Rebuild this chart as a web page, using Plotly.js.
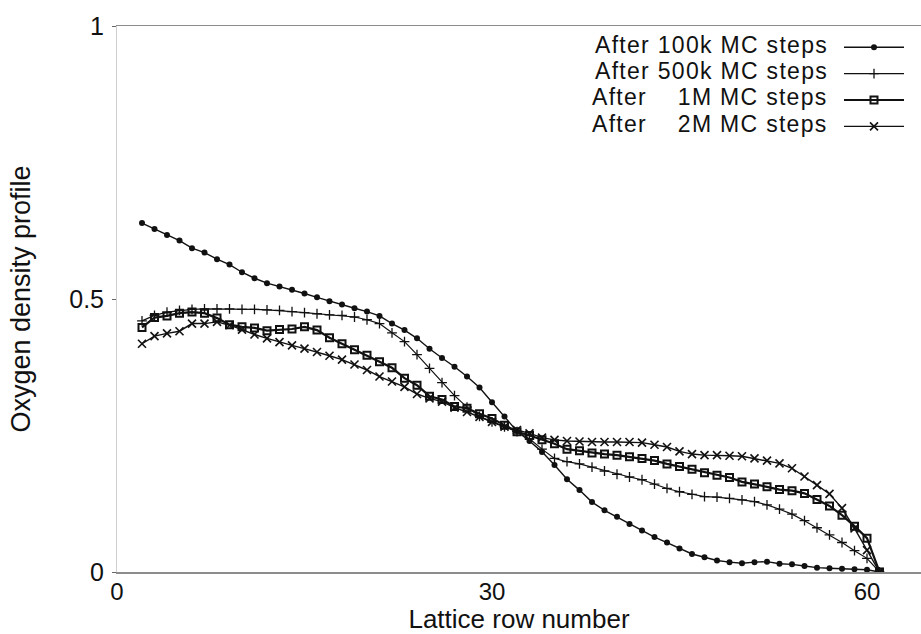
<!DOCTYPE html>
<html>
<head>
<meta charset="utf-8">
<script src="https://cdn.plot.ly/plotly-3.0.1.min.js"></script>
<style>
html,body{margin:0;padding:0;background:#fff;}
.annotation-text{letter-spacing:1.3px;}
</style>
</head>
<body>
<div id="chart" style="width:921px;height:634px;"></div>
<script>
// Lattice row numbers
const rows = [2,3,4,5,6,7,8,9,10,11,12,13,14,15,16,17,18,19,20,21,22,23,24,25,26,27,28,29,30,31,
              32,33,34,35,36,37,38,39,40,41,42,43,44,45,46,47,48,49,50,51,52,53,54,55,56,57,58,59,60,61];

const after100k = [0.639,0.628,0.617,0.607,0.593,0.585,0.573,0.563,0.549,0.538,0.529,0.523,0.517,0.510,0.503,
                   0.496,0.490,0.483,0.477,0.469,0.455,0.443,0.428,0.409,0.392,0.376,0.358,0.338,0.311,0.285,
                   0.258,0.240,0.220,0.196,0.170,0.150,0.128,0.113,0.101,0.088,0.076,0.064,0.054,0.043,0.033,
                   0.027,0.021,0.018,0.016,0.018,0.019,0.015,0.014,0.011,0.008,0.007,0.006,0.005,0.004,0.000];

const after500k = [0.460,0.470,0.476,0.479,0.481,0.482,0.482,0.482,0.481,0.481,0.480,0.479,0.477,0.475,0.473,
                   0.471,0.470,0.467,0.462,0.455,0.438,0.422,0.398,0.373,0.347,0.323,0.302,0.285,0.275,0.266,
                   0.257,0.244,0.225,0.208,0.202,0.198,0.192,0.185,0.179,0.174,0.169,0.161,0.153,0.147,0.142,
                   0.138,0.137,0.135,0.132,0.129,0.123,0.115,0.106,0.094,0.081,0.068,0.054,0.039,0.025,0.000];

const after1M = [0.448,0.466,0.469,0.474,0.476,0.474,0.465,0.453,0.449,0.447,0.442,0.444,0.445,0.449,0.443,
                 0.429,0.418,0.407,0.397,0.385,0.374,0.355,0.342,0.322,0.316,0.303,0.300,0.290,0.281,0.269,
                 0.257,0.250,0.242,0.235,0.225,0.222,0.218,0.216,0.214,0.211,0.208,0.204,0.198,0.193,0.188,
                 0.182,0.177,0.173,0.165,0.161,0.156,0.151,0.149,0.144,0.133,0.121,0.104,0.084,0.062,0.000];

const after2M = [0.418,0.432,0.437,0.441,0.455,0.455,0.458,0.452,0.444,0.435,0.428,0.421,0.415,0.409,0.403,
                 0.396,0.389,0.380,0.370,0.358,0.349,0.339,0.326,0.318,0.312,0.301,0.293,0.284,0.275,0.266,
                 0.260,0.254,0.246,0.242,0.240,0.239,0.238,0.238,0.238,0.238,0.237,0.233,0.229,0.221,0.216,
                 0.214,0.214,0.213,0.212,0.208,0.204,0.199,0.190,0.175,0.159,0.143,0.117,0.080,0.040,0.000];

const seriesNames = ["After 100k MC steps", "After 500k MC steps",
                     "After\u00a0\u00a0\u00a0\u00a01M MC steps", "After\u00a0\u00a0\u00a0\u00a02M MC steps"];

const xTickVals = [0, 30, 60];
const xTickText = ["0", "30", "60"];
const yTickVals = [0, 0.5, 1];
const yTickText = ["0", "0.5", "1"];

const FONT = "Liberation Sans, Arial, Helvetica, sans-serif";

const traces = [
  {x: rows, y: after100k, name: "", mode: "lines+markers",
   line: {color: "#111", width: 1.4},
   marker: {symbol: "circle", size: 6, color: "#111"}},
  {x: rows, y: after500k, name: "", mode: "lines+markers",
   line: {color: "#111", width: 1.2},
   marker: {symbol: "cross-thin", size: 7, color: "#111", line: {color: "#111", width: 1.3}}},
  {x: rows, y: after1M, name: "", mode: "lines+markers",
   line: {color: "#111", width: 2.2},
   marker: {symbol: "square-open", size: 7, color: "#111", line: {color: "#111", width: 2}}},
  {x: rows, y: after2M, name: "", mode: "lines+markers",
   line: {color: "#111", width: 1.4},
   marker: {symbol: "x-thin", size: 8, color: "#111", line: {color: "#111", width: 1.6}}}
];
traces.forEach((t, i) => { t.showlegend = true; t.hovertext = seriesNames[i]; });

const legendRowsPx = [44.5, 71, 97.4, 123.8];
const annotations = seriesNames.map((s, i) => ({
  xref: "paper", yref: "paper",
  x: (830 - 117) / 804, y: 1 - (legendRowsPx[i] - 26) / 546,
  xanchor: "right", yanchor: "middle",
  text: s, showarrow: false,
  font: {family: FONT, size: 23, color: "#111"}
}));

const layout = {
  width: 921, height: 634,
  margin: {l: 117, r: 0, t: 26, b: 62, autoexpand: false},
  paper_bgcolor: "#fff", plot_bgcolor: "#fff",
  font: {family: FONT, color: "#111"},
  showlegend: true,
  legend: {
    x: (839 - 117) / 804, xanchor: "left",
    y: 1 - (29 - 26) / 546, yanchor: "top",
    bgcolor: "rgba(0,0,0,0)", borderwidth: 0,
    font: {family: FONT, size: 18},
    itemwidth: 60, traceorder: "normal"
  },
  xaxis: {
    range: [0, 64.32], tickvals: xTickVals, ticktext: xTickText,
    showgrid: false, zeroline: false,
    showline: true, mirror: true, linecolor: "#8c8c8c", linewidth: 1.5,
    ticks: "", ticklabelstandoff: -2,
    tickfont: {family: FONT, size: 24, color: "#111"},
    automargin: true,
    title: {text: "Lattice row number", font: {family: FONT, size: 26, color: "#111"}, standoff: 2}
  },
  yaxis: {
    range: [0, 1], tickvals: yTickVals, ticktext: yTickText,
    showgrid: false, zeroline: false,
    showline: true, linecolor: "#cfcfcf", linewidth: 1,
    ticks: "outside", ticklen: 4, tickcolor: "#666",
    ticklabelstandoff: 3,
    tickfont: {family: FONT, size: 25, color: "#111"},
    title: {text: "Oxygen density profile", font: {family: FONT, size: 27, color: "#111"}, standoff: 30}
  },
  annotations: annotations
};

Plotly.newPlot("chart", traces, layout, {displayModeBar: false, staticPlot: true});
</script>
</body>
</html>
